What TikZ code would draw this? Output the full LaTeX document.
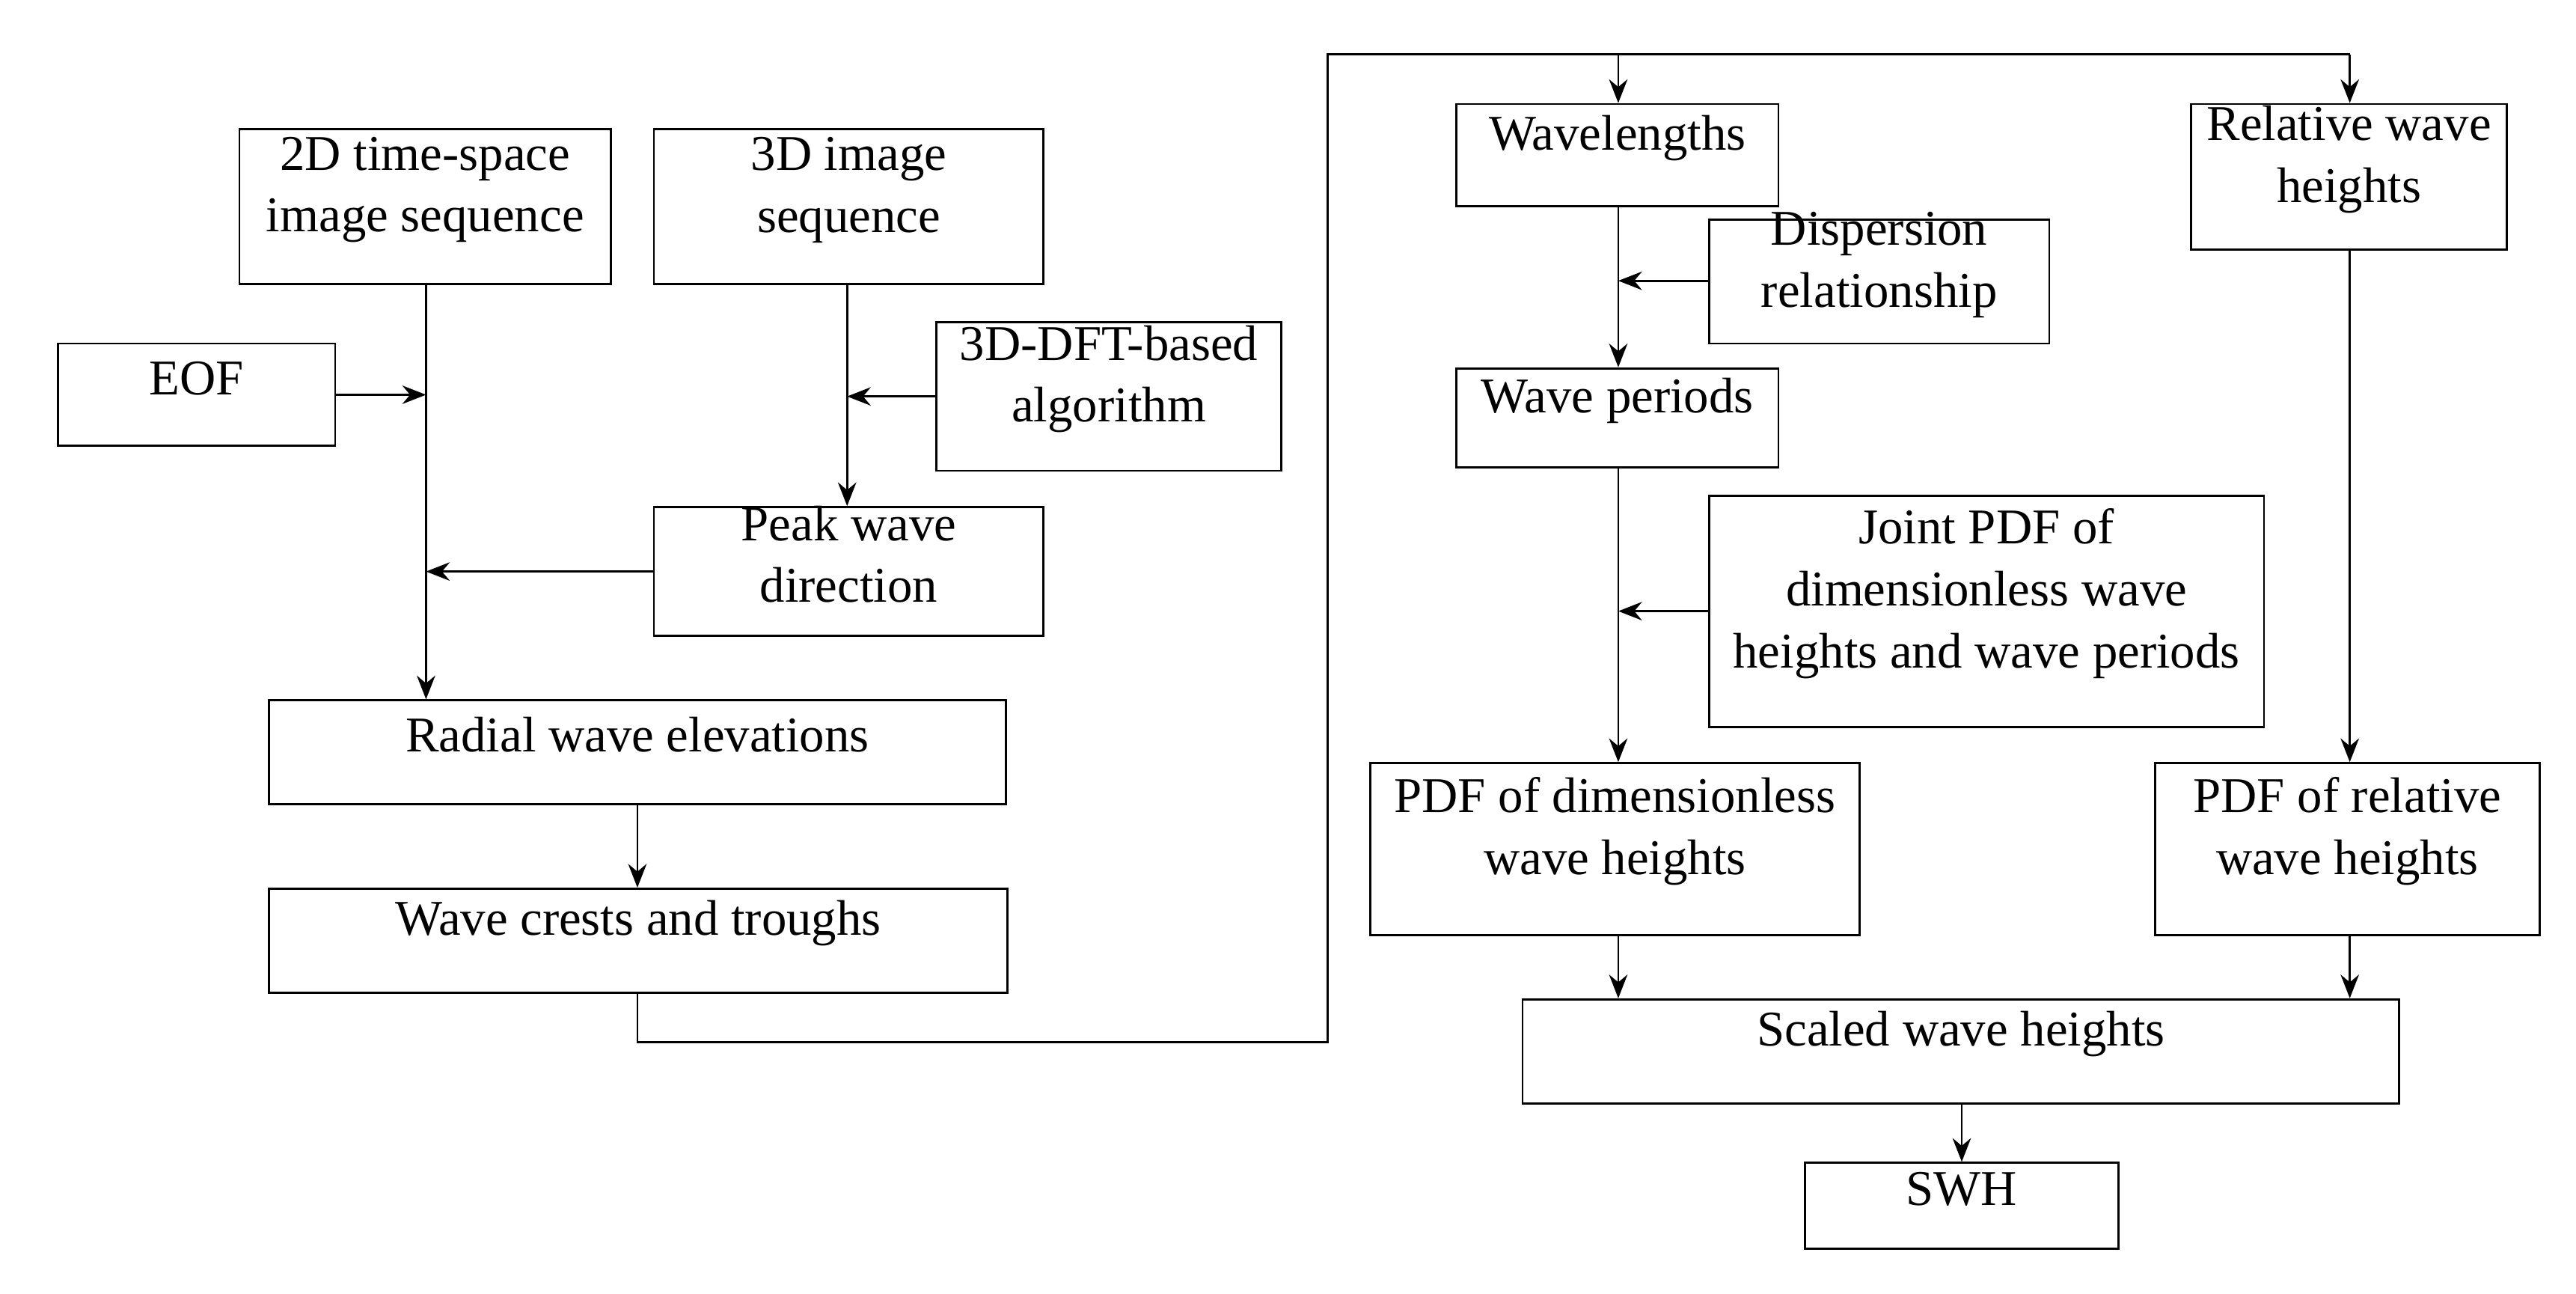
\documentclass[tikz,border=0pt]{standalone}
\usepackage{fontspec}
\setmainfont{Liberation Serif}
\usetikzlibrary{fit,arrows.meta}
\begin{document}
\begin{tikzpicture}[x=0.02207cm,y=-0.02207cm,
  box/.style={draw,line width=0.8pt,inner sep=0pt,align=center,font=\fontsize{19}{23.5}\selectfont},
  ln/.style={line width=0.8pt},
  ar/.style={ln,-{Stealth[length=9pt,width=7pt]}}]
\useasboundingbox (0,0) rectangle (1560,783);
\newcommand\bx[6]{\path (#2,#3) coordinate (#1-a) (#4,#5) coordinate (#1-b);
  \node[box,fit=(#1-a)(#1-b)] (#1) {#6};}
\bx{ts}{145}{78}{370}{172}{2D time-space\\image sequence}
\bx{td}{396}{78}{632}{172}{3D image\\sequence}
\bx{eof}{35}{208}{203}{270}{EOF}
\bx{dft}{567}{195}{776}{285}{3D-DFT-based\\algorithm}
\bx{pk}{396}{307}{632}{385}{Peak wave\\direction}
\bx{rad}{163}{424}{609}{487}{Radial wave elevations}
\bx{cr}{163}{538}{610}{601}{Wave crests and troughs}
\bx{wl}{882}{63}{1077}{125}{Wavelengths}
\bx{dis}{1035}{133}{1241}{208}{Dispersion\\relationship}
\bx{wp}{882}{223}{1077}{283}{Wave periods}
\bx{jp}{1035}{300}{1371}{440}{Joint PDF of\\dimensionless wave\\heights and wave periods}
\bx{pd}{830}{462}{1126}{566}{PDF of dimensionless\\wave heights}
\bx{rw}{1327}{63}{1518}{151}{Relative wave\\heights}
\bx{pr}{1305}{462}{1538}{566}{PDF of relative\\wave heights}
\bx{sc}{922}{605}{1453}{668}{Scaled wave heights}
\bx{swh}{1093}{704}{1283}{756}{SWH}
\coordinate (j1) at (258,239);
\coordinate (j2) at (258,346);
\coordinate (j3) at (513,240);
\coordinate (j4) at (980,170);
\coordinate (j5) at (980,370);
\coordinate (top) at (980,33);
\draw[ar] (ts.south -| j1) -- (rad.north -| j1);
\draw[ar] (eof.east |- j1) -- (j1);
\draw[ar] (pk.west |- j2) -- (j2);
\draw[ar] (td.south -| j3) -- (pk.north -| j3);
\draw[ar] (dft.west |- j3) -- (j3);
\draw[ar] (rad.south -| 386,0) -- (cr.north -| 386,0);
\draw[ln] (cr.south -| 386,0) -- (386,631) -- (804,631) -- (804,33) -- (1423,33);
\draw[ar] (1423,33) -- (rw.north -| 1423,0);
\draw[ar] (top) -- (wl.north -| top);
\draw[ar] (wl.south -| top) -- (wp.north -| top);
\draw[ar] (dis.west |- j4) -- (j4);
\draw[ar] (wp.south -| top) -- (pd.north -| top);
\draw[ar] (jp.west |- j5) -- (j5);
\draw[ar] (rw.south -| 1423,0) -- (pr.north -| 1423,0);
\draw[ar] (pd.south -| top) -- (sc.north -| top);
\draw[ar] (pr.south -| 1423,0) -- (sc.north -| 1423,0);
\draw[ar] (sc.south -| 1188,0) -- (swh.north -| 1188,0);
\end{tikzpicture}
\end{document}
